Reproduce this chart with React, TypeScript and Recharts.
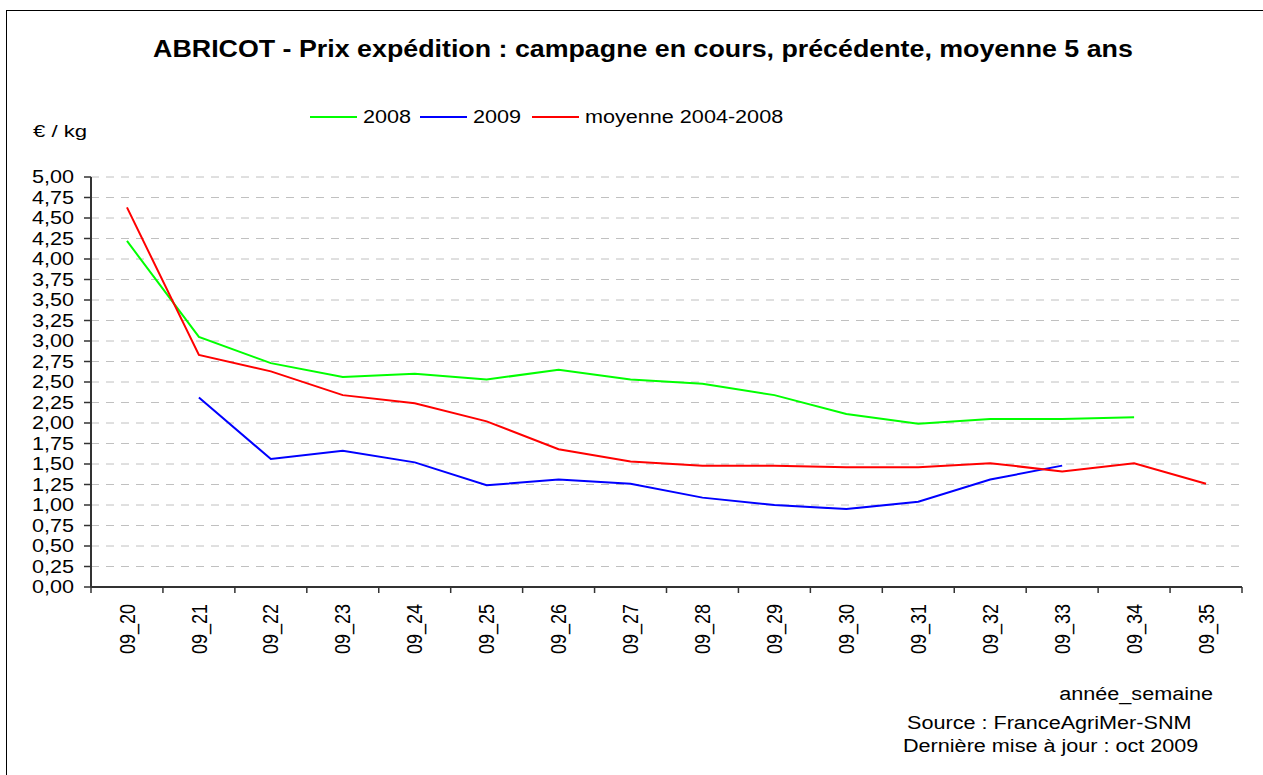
import { CartesianGrid, Legend, Line, LineChart, XAxis, YAxis } from "recharts";

// weekly shipping prices, €/kg
const weeks = [
  "09_20", "09_21", "09_22", "09_23", "09_24", "09_25", "09_26", "09_27",
  "09_28", "09_29", "09_30", "09_31", "09_32", "09_33", "09_34", "09_35",
];
const price2008 = [4.22, 3.05, 2.73, 2.56, 2.6, 2.53, 2.65, 2.53, 2.48, 2.34, 2.11, 1.99, 2.05, 2.05, 2.07, null];
const price2009 = [null, 2.31, 1.56, 1.66, 1.52, 1.24, 1.31, 1.26, 1.09, 1.0, 0.95, 1.04, 1.31, 1.48, null, null];
const avg2004to2008 = [4.63, 2.83, 2.63, 2.34, 2.24, 2.02, 1.68, 1.53, 1.48, 1.48, 1.46, 1.46, 1.51, 1.41, 1.51, 1.26];
const yTicks = [0, 0.25, 0.5, 0.75, 1, 1.25, 1.5, 1.75, 2, 2.25, 2.5, 2.75, 3, 3.25, 3.5, 3.75, 4, 4.25, 4.5, 4.75, 5];

const data = weeks.map((week, i) => ({
  week,
  s2008: price2008[i],
  s2009: price2009[i],
  avg: avg2004to2008[i],
}));

const FONT = "'Liberation Sans', Arial, sans-serif";
const STRETCH = 1.2; // the source image is stretched horizontally
const AXIS = "#333";
const BAND = 1151 / weeks.length;

const fmt = (v: number) => v.toFixed(2).replace(".", ",");

function YTick(props: any) {
  const { x, y, payload } = props;
  return (
    <text
      transform={`translate(${x},${y}) scale(${STRETCH},1)`}
      textAnchor="end"
      dominantBaseline="central"
      fontSize={18}
      fontFamily={FONT}
      fill="#000"
    >
      {fmt(payload.value)}
    </text>
  );
}

function XTick(props: any) {
  const { x, y, payload, index } = props;
  const half = payload && payload.offset ? payload.offset : BAND / 2;
  const last = index === weeks.length - 1;
  return (
    <g>
      <line x1={x - half} x2={x - half} y1={y} y2={y + 6} stroke={AXIS} strokeWidth={1.5} />
      {last && <line x1={x + half} x2={x + half} y1={y} y2={y + 6} stroke={AXIS} strokeWidth={1.5} />}
      <text
        transform={`translate(${x},${y + 17}) scale(${STRETCH},1) rotate(-90)`}
        textAnchor="end"
        dominantBaseline="central"
        fontSize={18}
        fontFamily={FONT}
        fill="#000"
      >
        {payload.value}
      </text>
    </g>
  );
}

const legendWidths = [110, 112, 260];

function LegendContent(props: any) {
  const items = props.payload || [];
  return (
    <div style={{ display: "flex", alignItems: "center", height: 20, fontFamily: FONT }}>
      {items.map((it: any, i: number) => (
        <div key={i} style={{ width: legendWidths[i], display: "flex", alignItems: "center", flexShrink: 0 }}>
          <span style={{ width: 47, height: 2, background: it.color, marginRight: 6, display: "inline-block" }} />
          <span
            style={{
              display: "inline-block",
              fontSize: 18,
              lineHeight: "20px",
              whiteSpace: "nowrap",
              transform: `scaleX(${STRETCH})`,
              transformOrigin: "left center",
            }}
          >
            {it.value}
          </span>
        </div>
      ))}
    </div>
  );
}

function Txt({ x, y, size, sx, anchor = "start", bold = false, children }: any) {
  const tx = anchor === "middle" ? "-50%" : anchor === "end" ? "-100%" : "0";
  const origin = anchor === "middle" ? "center" : anchor === "end" ? "right center" : "left center";
  return (
    <div
      style={{
        position: "absolute",
        left: x,
        top: y,
        fontSize: size,
        fontWeight: bold ? "bold" : "normal",
        fontFamily: FONT,
        lineHeight: 1,
        whiteSpace: "nowrap",
        transform: `translate(${tx},-50%) scaleX(${sx})`,
        transformOrigin: origin,
      }}
    >
      {children}
    </div>
  );
}

export default function App() {
  return (
    <div style={{ position: "absolute", left: 0, top: 0, width: 1263, height: 775, background: "#fff", overflow: "hidden" }}>
      <div style={{ position: "absolute", left: 6, top: 10, width: 1300, height: 800, borderLeft: "1px solid #000", borderTop: "1px solid #000" }} />
      <LineChart
        width={1263}
        height={775}
        data={data}
        margin={{ top: 177, right: 21, bottom: 108, left: 0 }}
        style={{ position: "absolute", left: 0, top: 0 }}
      >
        <CartesianGrid vertical={false} stroke="#c0c0c0" strokeDasharray="8 7" />
        <XAxis
          dataKey="week"
          scale="band"
          height={80}
          interval={0}
          tickSize={0}
          tickMargin={0}
          tickLine={false}
          axisLine={{ stroke: AXIS, strokeWidth: 2 }}
          tick={<XTick />}
        />
        <XAxis xAxisId="top" dataKey="week" scale="band" orientation="top" height={0} tick={false} tickLine={false} axisLine={{ stroke: "#808080", strokeWidth: 2 }} />
        <YAxis
          width={91}
          domain={[0, 5]}
          ticks={yTicks}
          interval={0}
          tickSize={7}
          tickMargin={10}
          tickLine={{ stroke: AXIS, strokeWidth: 1.5 }}
          axisLine={{ stroke: AXIS, strokeWidth: 2 }}
          tick={<YTick />}
        />
        <YAxis yAxisId="right" orientation="right" width={0} domain={[0, 5]} tick={false} tickLine={false} axisLine={{ stroke: "#808080", strokeWidth: 2 }} />
        <Legend
          layout="horizontal"
          verticalAlign="middle"
          align="center"
          wrapperStyle={{ left: 310, top: 107, width: "auto", height: 20 }}
          content={<LegendContent />}
        />
        <Line type="linear" dataKey="s2008" name="2008" stroke="#00ff00" strokeWidth={2} dot={false} isAnimationActive={false} />
        <Line type="linear" dataKey="s2009" name="2009" stroke="#0000ff" strokeWidth={2} dot={false} isAnimationActive={false} />
        <Line type="linear" dataKey="avg" name="moyenne 2004-2008" stroke="#ff0000" strokeWidth={2} dot={false} isAnimationActive={false} />
      </LineChart>
      <Txt x={643} y={48.5} size={23} sx={1.165} anchor="middle" bold>
        ABRICOT - Prix expédition : campagne en cours, précédente, moyenne 5 ans
      </Txt>
      <Txt x={33} y={131} size={17} sx={1.3}>€ / kg</Txt>
      <Txt x={1213} y={694} size={18} sx={STRETCH} anchor="end">année_semaine</Txt>
      <Txt x={907} y={723} size={18} sx={STRETCH}>Source : FranceAgriMer-SNM</Txt>
      <Txt x={903} y={746} size={18} sx={STRETCH}>Dernière mise à jour : oct 2009</Txt>
    </div>
  );
}
